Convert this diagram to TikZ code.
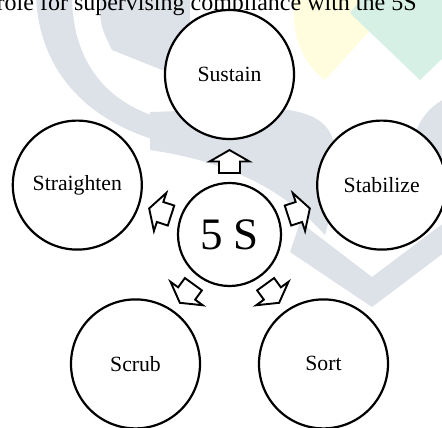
\documentclass[tikz,border=0pt]{standalone}
\usepackage{fontspec}
\setmainfont{Liberation Serif}
\usetikzlibrary{calc}
\definecolor{wmgray}{RGB}{221,226,233}
\definecolor{wmyellow}{RGB}{255,253,221}
\definecolor{wmgreen}{RGB}{214,240,229}
\begin{document}
\begin{tikzpicture}[x=1pt,y=-1pt,
  stage/.style={circle, draw, line width=2.2pt, fill=white, minimum size=129pt, inner sep=0pt, font=\fontsize{21.7}{26}\selectfont},
  hub/.style={circle, draw, line width=2.2pt, fill=white, minimum size=103pt, inner sep=0pt, font=\fontsize{45}{54}\selectfont},
  blockarrow/.style={draw, line width=1.9pt, fill=white, line join=miter}]
\clip (0,0) rectangle (442,428);
\fill[white] (0,0) rectangle (442,428);
% watermark
\fill[wmyellow] (294,-2) .. controls (291,40) and (305,65) .. (325,80) -- (375,25) -- (375,-2) -- cycle;
\fill[wmgreen] (350,13) -- (420,80) -- (445,56) -- (445,-2) -- (362,-2) -- cycle;
\fill[wmgray] (36,-5) .. controls (38,60) and (75,115) .. (155,140) -- (160,118) .. controls (100,100) and (72,55) .. (72,-5) -- cycle;
\fill[wmgray] (100,-5) .. controls (100,25) .. (112,50) -- (167,72) -- (190,30) -- (190,-5) -- cycle;
\fill[wmgray] (150,112) .. controls (240,110) and (320,95) .. (333,140) .. controls (340,170) and (335,200) .. (325,235) .. controls (280,185) and (220,160) .. (150,150) -- cycle;
\fill[wmgray] (300,222) -- (372,277) -- (445,222) -- (445,252) -- (372,307) -- (290,252) -- cycle;
\fill[wmgray] (470,150) circle[radius=57];
% caption line (cut off at the top edge)
\node[anchor=base west, inner sep=0pt, font=\fontsize{24}{28}\selectfont] (caption) at (-3.5,10.5) {role for supervising compliance with the 5S};
% nodes
\node[hub] (c) at (229.5,234.5) {5 S};
\node[stage] (sus) at (229.5,74.5) {Sustain};
\node[stage] (stab) at (381.7,185.1) {Stabilize};
\node[stage] (str) at (77.3,185.1) {Straighten};
\node[stage] (scr) at (135.5,363.9) {Scrub};
\node[stage] (sort) at (323.5,363.9) {Sort};
% arrow positions
\coordinate (p1) at ($(c.center)!0.456!(sus.center)$);
\coordinate (p2) at ($(c.center)!0.456!(stab.center)$);
\coordinate (p3) at ($(c.center)!0.456!(str.center)$);
\coordinate (p4) at ($(c.center)!0.456!(scr.center)$);
\coordinate (p5) at ($(c.center)!0.456!(sort.center)$);
% block arrows
\foreach \p/\ang in {p1/90, p2/18, p3/162, p4/234, p5/306}{
  \draw[blockarrow, shift={(\p)}, rotate=\ang]
    (-11.5,-10.5) -- (0,-10.5) -- (0,-20) -- (11.5,0) -- (0,20) -- (0,10.5) -- (-11.5,10.5) -- cycle;
}
\end{tikzpicture}
\end{document}
